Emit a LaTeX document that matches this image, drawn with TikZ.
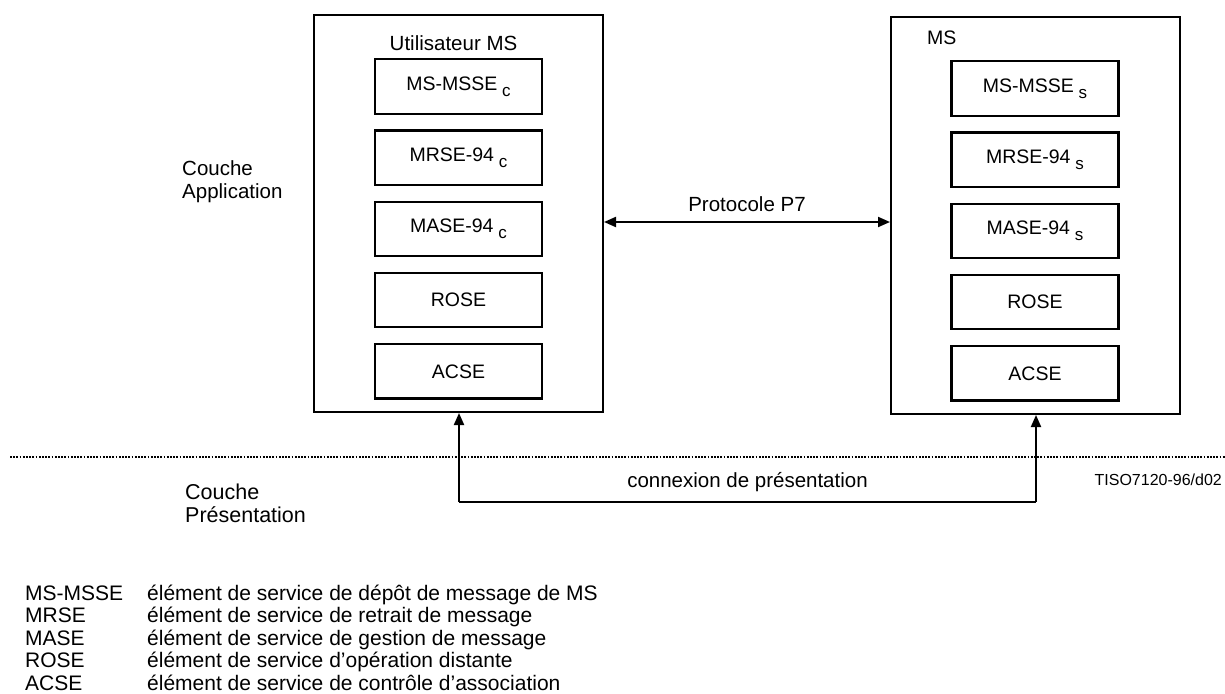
\documentclass[tikz,border=0pt]{standalone}
\usepackage{fontspec}
\setmainfont{Liberation Sans}
\usetikzlibrary{arrows.meta,positioning}

\newcommand{\lowidx}[1]{\hspace{0.25em}\raisebox{-0.3em}{\fontsize{17}{17}\selectfont #1}}

\begin{document}
\begin{tikzpicture}[x=1pt,y=-1pt,font=\fontsize{20.5}{23}\selectfont,
    node distance=14.5pt,
    outer/.style={rectangle, draw, line width=2pt, minimum width=289pt, minimum height=397pt, inner sep=0pt},
    layer/.style={rectangle, draw, line width=2.2pt, minimum width=167pt, minimum height=54.5pt, inner sep=0pt, font=\fontsize{19.5}{22}\selectfont},
    plain/.style={inner sep=0pt, align=left},
    legend/.style={inner sep=0pt, anchor=base west, font=\fontsize{21}{23}\selectfont},
    tip/.style={line width=2pt, -{Triangle[length=12pt,width=10pt]}},
    conn/.style={line width=2pt}]
    \useasboundingbox (0,0) rectangle (1225,693);

    % entite utilisateur
    \node [outer] (user) at (458.5,213.5) {};
    \node [plain] (usertitle) at (453.5,43.5) {Utilisateur MS};
    \node [layer] (msssec) at (458.5,86.5) {MS-MSSE\lowidx{c}};
    \node [layer, below=of msssec] (mrsec) {MRSE-94\lowidx{c}};
    \node [layer, below=of mrsec] (masec) {MASE-94\lowidx{c}};
    \node [layer, below=of masec] (rosec) {ROSE};
    \node [layer, below=of rosec] (acsec) {ACSE};

    % entite MS
    \node [outer] (ms) at (1035.5,215.5) {};
    \node [plain, anchor=west, font=\fontsize{19.5}{22}\selectfont] (mstitle) at (927,38) {MS};
    \node [layer] (mssses) at (1035,88.5) {MS-MSSE\lowidx{s}};
    \node [layer, below=of mssses] (mrses) {MRSE-94\lowidx{s}};
    \node [layer, below=of mrses] (mases) {MASE-94\lowidx{s}};
    \node [layer, below=of mases] (roses) {ROSE};
    \node [layer, below=of roses] (acses) {ACSE};

    % protocole P7
    \draw [line width=2pt, {Triangle[length=12pt,width=10pt]}-{Triangle[length=12pt,width=10pt]}]
        (user.east |- 0,222) -- (ms.west |- 0,222)
        node [midway, above=9pt, inner sep=0pt] (ptext) {Protocole P7};

    \node [plain, anchor=west] (appli) at (182,181.5) {Couche\\Application};

    % frontiere des couches
    \coordinate (lim1) at (10,457);
    \coordinate (lim2) at (1225,457);
    \draw [line width=2.6pt, dash pattern=on 1.8pt off 1.4pt] (lim1) -- (lim2);

    % connexion de presentation
    \coordinate (cl) at (459,502);
    \coordinate (cr) at (1036,502);
    \draw [conn] (cl) -- (cr) node [midway, above=9pt, inner sep=0pt] (ctext) {connexion de présentation};
    \draw [tip] (cl) -- (cl |- user.south);
    \draw [tip] (cr) -- (cr |- ms.south);

    \node [plain, anchor=west, font=\fontsize{21.5}{23}\selectfont] (pres) at (185,503.5) {Couche\\Présentation};
    \node [plain, anchor=east, font=\fontsize{16}{18}\selectfont] (ref) at (1222,480) {TISO7120-96/d02};

    % legende
    \node [legend] (ab1) at (25,600) {MS-MSSE};
    \node [legend] (ab2) at (25,622.5) {MRSE};
    \node [legend] (ab3) at (25,645) {MASE};
    \node [legend] (ab4) at (25,667.5) {ROSE};
    \node [legend] (ab5) at (25,690) {ACSE};
    \node [legend] (de1) at (147,600) {élément de service de dépôt de message de MS};
    \node [legend] (de2) at (147,622.5) {élément de service de retrait de message};
    \node [legend] (de3) at (147,645) {élément de service de gestion de message};
    \node [legend] (de4) at (147,667.5) {élément de service d\char39 opération distante};
    \node [legend] (de5) at (147,690) {élément de service de contrôle d\char39 association};
\end{tikzpicture}
\end{document}
